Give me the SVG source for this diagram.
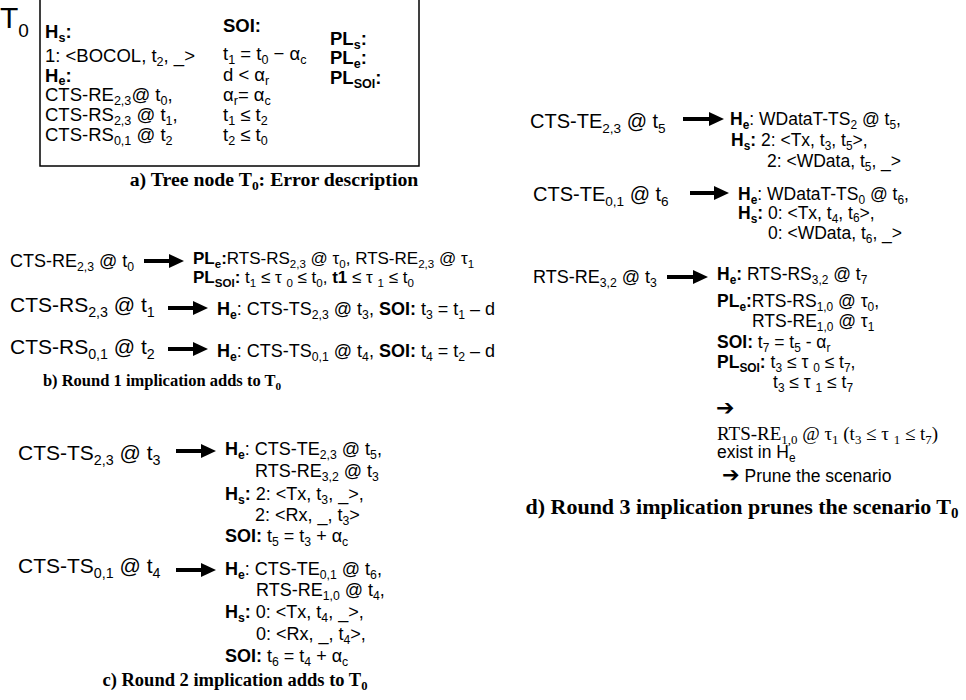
<svg xmlns="http://www.w3.org/2000/svg" width="966" height="700" viewBox="0 0 966 700">
<style>
.t{font-family:"Liberation Sans",Arial,sans-serif;fill:#000}
.sr{font-family:"Liberation Serif","Times New Roman",serif;fill:#000}
.b{font-weight:bold}
.u{font-size:68%}
.f17{font-size:17px}
.f175{font-size:17.5px}
.f18{font-size:18px}
.f185{font-size:18.5px}
.f20{font-size:20px}
.f21{font-size:21px}
.cap{font-family:"Liberation Serif","Times New Roman",serif;font-weight:bold;text-anchor:middle;fill:#000}
.ar{stroke:#000;stroke-width:4;fill:none}
.sym{font-family:"DejaVu Sans",sans-serif;font-weight:bold}
</style>
<defs>
<marker id="ah" markerUnits="userSpaceOnUse" markerWidth="16" markerHeight="14" refX="4" refY="7" orient="auto">
<path d="M0,0 L15,7 L0,14 Z" fill="#000"/>
</marker>
</defs>
<rect width="966" height="700" fill="#fff"/>

<g id="panel-a">
<rect x="40" y="-2" width="379" height="168" fill="none" stroke="#000" stroke-width="1.5"/>
<text class="t" x="0" y="28" font-size="30">T<tspan font-size="19" dy="9">0</tspan></text>
<text class="t f185" x="45" y="38"><tspan class="b">H<tspan class="u" dy="4">s</tspan><tspan dy="-4">:</tspan></tspan></text>
<text class="t f185" x="45" y="62">1: &lt;BOCOL, t<tspan class="u" dy="4">2</tspan><tspan dy="-4">, _&gt;</tspan></text>
<text class="t f185" x="45" y="82"><tspan class="b">H<tspan class="u" dy="3">e</tspan><tspan dy="-3">:</tspan></tspan></text>
<text class="t f185" x="45" y="101">CTS-RE<tspan class="u" dy="4">2,3</tspan><tspan dy="-4">@ t</tspan><tspan class="u" dy="4">0</tspan><tspan dy="-4">,</tspan></text>
<text class="t f185" x="45" y="121">CTS-RS<tspan class="u" dy="4">2,3</tspan><tspan dy="-4"> @ t</tspan><tspan class="u" dy="4">1</tspan><tspan dy="-4">,</tspan></text>
<text class="t f185" x="45" y="141">CTS-RS<tspan class="u" dy="4">0,1</tspan><tspan dy="-4"> @ t</tspan><tspan class="u" dy="4">2</tspan></text>
<text class="t f185 b" x="223" y="32">SOI:</text>
<text class="t f185" x="223" y="60">t<tspan class="u" dy="4">1</tspan><tspan dy="-4"> = t</tspan><tspan class="u" dy="4">0</tspan><tspan dy="-4"> − α</tspan><tspan class="u" dy="4">c</tspan></text>
<text class="t f185" x="223" y="81">d &lt; α<tspan class="u" dy="4">r</tspan></text>
<text class="t f185" x="223" y="101">α<tspan class="u" dy="4">r</tspan><tspan dy="-4">= α</tspan><tspan class="u" dy="4">c</tspan></text>
<text class="t f185" x="223" y="121">t<tspan class="u" dy="4">1</tspan><tspan dy="-4"> ≤ t</tspan><tspan class="u" dy="4">2</tspan></text>
<text class="t f185" x="223" y="141">t<tspan class="u" dy="4">2</tspan><tspan dy="-4"> ≤ t</tspan><tspan class="u" dy="4">0</tspan></text>
<text class="t f185 b" x="330" y="45">PL<tspan class="u" dy="4">s</tspan><tspan dy="-4">:</tspan></text>
<text class="t f185 b" x="330" y="64">PL<tspan class="u" dy="4">e</tspan><tspan dy="-4">:</tspan></text>
<text class="t f185 b" x="330" y="84">PL<tspan class="u" dy="4">SOI</tspan><tspan dy="-4">:</tspan></text>
<text class="cap" font-size="19.8" x="274" y="186">a) Tree node T<tspan class="u" dy="4">0</tspan><tspan dy="-4">: Error description</tspan></text>
</g>

<g id="panel-b">
<text class="t f18" x="10" y="267">CTS-RE<tspan class="u" dy="4">2,3</tspan><tspan dy="-4"> @ t</tspan><tspan class="u" dy="4">0</tspan></text>
<text class="t f17" x="193" y="264"><tspan class="b">PL<tspan class="u" dy="4">e</tspan><tspan dy="-4">:</tspan></tspan>RTS-RS<tspan class="u" dy="4">2,3</tspan><tspan dy="-4"> @ τ</tspan><tspan class="u" dy="4">0</tspan><tspan dy="-4">, RTS-RE</tspan><tspan class="u" dy="4">2,3</tspan><tspan dy="-4"> @ τ</tspan><tspan class="u" dy="4">1</tspan></text>
<text class="t f17" x="193" y="283"><tspan class="b">PL<tspan class="u" dy="4">SOI</tspan><tspan dy="-4">:</tspan></tspan> t<tspan class="u" dy="4">1</tspan><tspan dy="-4"> ≤ τ </tspan><tspan class="u" dy="4">0</tspan><tspan dy="-4"> ≤ t</tspan><tspan class="u" dy="4">0</tspan><tspan dy="-4">, </tspan><tspan class="b">t1</tspan> ≤ τ <tspan class="u" dy="4">1</tspan><tspan dy="-4"> ≤ t</tspan><tspan class="u" dy="4">0</tspan></text>
<text class="t f21" x="10" y="312">CTS-RS<tspan class="u" dy="5">2,3</tspan><tspan dy="-5"> @ t</tspan><tspan class="u" dy="5">1</tspan></text>
<text class="t f18" x="217" y="315"><tspan class="b">H<tspan class="u" dy="4">e</tspan></tspan><tspan dy="-4">: CTS-TS</tspan><tspan class="u" dy="4">2,3</tspan><tspan dy="-4"> @ t</tspan><tspan class="u" dy="4">3</tspan><tspan dy="-4">, </tspan><tspan class="b">SOI:</tspan> t<tspan class="u" dy="4">3</tspan><tspan dy="-4"> = t</tspan><tspan class="u" dy="4">1</tspan><tspan dy="-4"> – d</tspan></text>
<text class="t f21" x="10" y="354">CTS-RS<tspan class="u" dy="5">0,1</tspan><tspan dy="-5"> @ t</tspan><tspan class="u" dy="5">2</tspan></text>
<text class="t f18" x="217" y="357"><tspan class="b">H<tspan class="u" dy="4">e</tspan></tspan><tspan dy="-4">: CTS-TS</tspan><tspan class="u" dy="4">0,1</tspan><tspan dy="-4"> @ t</tspan><tspan class="u" dy="4">4</tspan><tspan dy="-4">, </tspan><tspan class="b">SOI:</tspan> t<tspan class="u" dy="4">4</tspan><tspan dy="-4"> = t</tspan><tspan class="u" dy="4">2</tspan><tspan dy="-4"> – d</tspan></text>
<text class="cap" font-size="16.5" x="162" y="386">b) Round 1 implication adds to T<tspan class="u" dy="4">0</tspan></text>
</g>

<g id="panel-c">
<text class="t f21" x="18" y="460">CTS-TS<tspan class="u" dy="5">2,3</tspan><tspan dy="-5"> @ t</tspan><tspan class="u" dy="5">3</tspan></text>
<text class="t f18" x="225" y="455"><tspan class="b">H<tspan class="u" dy="4">e</tspan></tspan><tspan dy="-4">: CTS-TE</tspan><tspan class="u" dy="4">2,3</tspan><tspan dy="-4"> @ t</tspan><tspan class="u" dy="4">5</tspan><tspan dy="-4">,</tspan></text>
<text class="t f18" x="255" y="477">RTS-RE<tspan class="u" dy="4">3,2</tspan><tspan dy="-4"> @ t</tspan><tspan class="u" dy="4">3</tspan></text>
<text class="t f18" x="225" y="500"><tspan class="b">H<tspan class="u" dy="4">s</tspan><tspan dy="-4">:</tspan></tspan> 2: &lt;Tx, t<tspan class="u" dy="4">3</tspan><tspan dy="-4">, _&gt;,</tspan></text>
<text class="t f18" x="255" y="521">2: &lt;Rx, _, t<tspan class="u" dy="4">3</tspan><tspan dy="-4">&gt;</tspan></text>
<text class="t f18" x="225" y="542"><tspan class="b">SOI:</tspan> t<tspan class="u" dy="4">5</tspan><tspan dy="-4"> = t</tspan><tspan class="u" dy="4">3</tspan><tspan dy="-4"> + α</tspan><tspan class="u" dy="4">c</tspan></text>
<text class="t f21" x="18" y="573">CTS-TS<tspan class="u" dy="5">0,1</tspan><tspan dy="-5"> @ t</tspan><tspan class="u" dy="5">4</tspan></text>
<text class="t f18" x="225" y="575"><tspan class="b">H<tspan class="u" dy="4">e</tspan></tspan><tspan dy="-4">: CTS-TE</tspan><tspan class="u" dy="4">0,1</tspan><tspan dy="-4"> @ t</tspan><tspan class="u" dy="4">6</tspan><tspan dy="-4">,</tspan></text>
<text class="t f18" x="256" y="596">RTS-RE<tspan class="u" dy="4">1,0</tspan><tspan dy="-4"> @ t</tspan><tspan class="u" dy="4">4</tspan><tspan dy="-4">,</tspan></text>
<text class="t f18" x="225" y="618"><tspan class="b">H<tspan class="u" dy="4">s</tspan><tspan dy="-4">:</tspan></tspan> 0: &lt;Tx, t<tspan class="u" dy="4">4</tspan><tspan dy="-4">, _&gt;,</tspan></text>
<text class="t f18" x="256" y="640">0: &lt;Rx, _, t<tspan class="u" dy="4">4</tspan><tspan dy="-4">&gt;,</tspan></text>
<text class="t f18" x="225" y="662"><tspan class="b">SOI:</tspan> t<tspan class="u" dy="4">6</tspan><tspan dy="-4"> = t</tspan><tspan class="u" dy="4">4</tspan><tspan dy="-4"> + α</tspan><tspan class="u" dy="4">c</tspan></text>
<text class="cap" font-size="18.5" x="235" y="686">c) Round 2 implication adds to T<tspan class="u" dy="4">0</tspan></text>
</g>

<g id="panel-d">
<text class="t f20" x="530" y="128">CTS-TE<tspan class="u" dy="5">2,3</tspan><tspan dy="-5"> @ t</tspan><tspan class="u" dy="5">5</tspan></text>
<text class="t f175" x="730" y="125"><tspan class="b">H<tspan class="u" dy="4">e</tspan></tspan><tspan dy="-4">: WDataT-TS</tspan><tspan class="u" dy="4">2</tspan><tspan dy="-4"> @ t</tspan><tspan class="u" dy="4">5</tspan><tspan dy="-4">,</tspan></text>
<text class="t f175" x="731" y="146"><tspan class="b">H<tspan class="u" dy="4">s</tspan><tspan dy="-4">:</tspan></tspan> 2: &lt;Tx, t<tspan class="u" dy="4">3</tspan><tspan dy="-4">, t</tspan><tspan class="u" dy="4">5</tspan><tspan dy="-4">&gt;,</tspan></text>
<text class="t f175" x="767" y="167">2: &lt;WData, t<tspan class="u" dy="4">5</tspan><tspan dy="-4">, _&gt;</tspan></text>
<text class="t f20" x="533" y="201">CTS-TE<tspan class="u" dy="5">0,1</tspan><tspan dy="-5"> @ t</tspan><tspan class="u" dy="5">6</tspan></text>
<text class="t f175" x="738" y="200"><tspan class="b">H<tspan class="u" dy="4">e</tspan></tspan><tspan dy="-4">: WDataT-TS</tspan><tspan class="u" dy="4">0</tspan><tspan dy="-4"> @ t</tspan><tspan class="u" dy="4">6</tspan><tspan dy="-4">,</tspan></text>
<text class="t f175" x="738" y="219"><tspan class="b">H<tspan class="u" dy="4">s</tspan><tspan dy="-4">:</tspan></tspan> 0: &lt;Tx, t<tspan class="u" dy="4">4</tspan><tspan dy="-4">, t</tspan><tspan class="u" dy="3">6</tspan><tspan dy="-3">&gt;,</tspan></text>
<text class="t f175" x="768" y="239">0: &lt;WData, t<tspan class="u" dy="4">6</tspan><tspan dy="-4">, _&gt;</tspan></text>
<text class="t f18" x="533" y="283">RTS-RE<tspan class="u" dy="4">3,2</tspan><tspan dy="-4"> @ t</tspan><tspan class="u" dy="4">3</tspan></text>
<text class="t f175" x="717" y="280"><tspan class="b">H<tspan class="u" dy="4">e</tspan><tspan dy="-4">:</tspan></tspan> RTS-RS<tspan class="u" dy="4">3,2</tspan><tspan dy="-4"> @ t</tspan><tspan class="u" dy="4">7</tspan></text>
<text class="t f175" x="717" y="307"><tspan class="b">PL<tspan class="u" dy="4">e</tspan><tspan dy="-4">:</tspan></tspan>RTS-RS<tspan class="u" dy="4">1,0</tspan><tspan dy="-4"> @ τ</tspan><tspan class="u" dy="4">0</tspan><tspan dy="-4">,</tspan></text>
<text class="t f175" x="752" y="327">RTS-RE<tspan class="u" dy="4">1,0</tspan><tspan dy="-4"> @ τ</tspan><tspan class="u" dy="4">1</tspan></text>
<text class="t f175" x="717" y="348"><tspan class="b">SOI:</tspan> t<tspan class="u" dy="4">7</tspan><tspan dy="-4"> = t</tspan><tspan class="u" dy="4">5</tspan><tspan dy="-4"> - α</tspan><tspan class="u" dy="4">r</tspan></text>
<text class="t f175" x="717" y="368"><tspan class="b">PL<tspan class="u" dy="4">SOI</tspan><tspan dy="-4">:</tspan></tspan> t<tspan class="u" dy="4">3</tspan><tspan dy="-4"> ≤ τ </tspan><tspan class="u" dy="4">0</tspan><tspan dy="-4"> ≤ t</tspan><tspan class="u" dy="4">7</tspan><tspan dy="-4">,</tspan></text>
<text class="t f175" x="773" y="388">t<tspan class="u" dy="4">3</tspan><tspan dy="-4"> ≤ τ </tspan><tspan class="u" dy="4">1</tspan><tspan dy="-4"> ≤ t</tspan><tspan class="u" dy="4">7</tspan></text>
<text class="sym" font-size="22" x="716" y="415">➔</text>
<text class="sr" font-size="19" x="717" y="440">RTS-RE<tspan class="u" dy="4">1,0</tspan><tspan dy="-4"> @ τ</tspan><tspan class="u" dy="4">1</tspan><tspan dy="-4">  (t</tspan><tspan class="u" dy="4">3</tspan><tspan dy="-4"> ≤ τ </tspan><tspan class="u" dy="4">1</tspan><tspan dy="-4"> ≤ t</tspan><tspan class="u" dy="4">7</tspan><tspan dy="-4">)</tspan></text>
<text class="t f175" x="717" y="458">exist in H<tspan class="u" dy="4">e</tspan></text>
<text class="t f175" x="722" y="482"><tspan class="sym" font-size="21">➔</tspan> Prune the scenario</text>
<text class="cap" font-size="22" x="742" y="514">d) Round 3 implication prunes the scenario T<tspan class="u" dy="4">0</tspan></text>
</g>

<g id="connectors">
<line class="ar" x1="144" y1="261" x2="173" y2="261" marker-end="url(#ah)"/>
<line class="ar" x1="168" y1="308" x2="197" y2="308" marker-end="url(#ah)"/>
<line class="ar" x1="168" y1="349" x2="197" y2="349" marker-end="url(#ah)"/>
<line class="ar" x1="176" y1="451" x2="205" y2="451" marker-end="url(#ah)"/>
<line class="ar" x1="176" y1="570" x2="205" y2="570" marker-end="url(#ah)"/>
<line class="ar" x1="683" y1="119" x2="713" y2="119" marker-end="url(#ah)"/>
<line class="ar" x1="690" y1="193" x2="718" y2="193" marker-end="url(#ah)"/>
<line class="ar" x1="667" y1="277" x2="697" y2="277" marker-end="url(#ah)"/>
</g>
</svg>
